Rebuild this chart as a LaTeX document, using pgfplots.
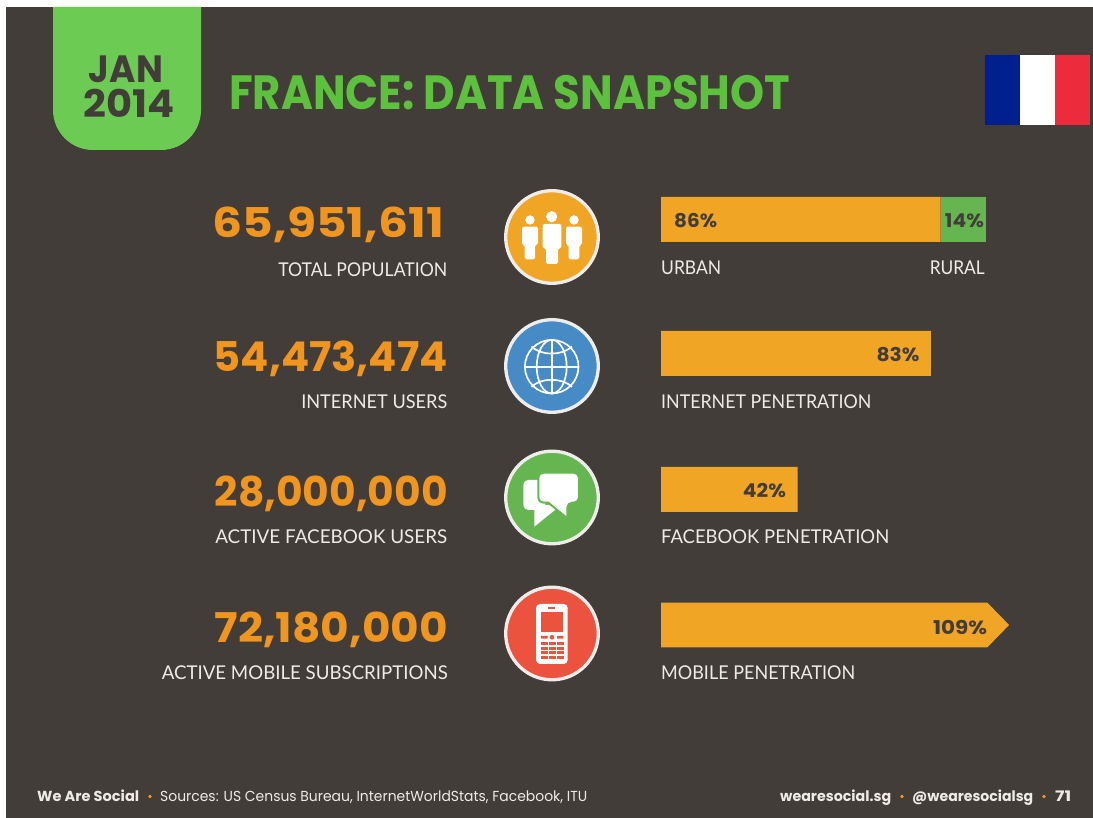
\documentclass[border=0pt]{standalone}
\usepackage{fontspec}
\usepackage{graphicx}
\usepackage{pgfplots}
\pgfplotsset{compat=1.18}
\setmainfont{Poppins}
\newfontfamily\lab{Lato}
% squeeze or stretch a text sideways to a width in slide pixels
\newcommand{\fitw}[2]{\resizebox{#1pt}{\height}{#2}}
\definecolor{bg}{HTML}{433D39}
\definecolor{tabgreen}{HTML}{6CCB53}
\definecolor{headgreen}{HTML}{5CC13C}
\definecolor{numorange}{HTML}{F0951E}
\definecolor{barorange}{HTML}{F0A525}
\definecolor{bargreen}{HTML}{65B650}
\definecolor{iblue}{HTML}{468AC6}
\definecolor{ired}{HTML}{EC533E}
\definecolor{ring}{HTML}{EEEDEB}
\definecolor{lighttext}{HTML}{EDEBE8}
\definecolor{flagblue}{HTML}{00208F}
\definecolor{flagred}{HTML}{EE2A3D}
\tikzset{
  px/.style={x=1pt,y=-1pt,yshift=818pt},
  big/.style={font=\fontsize{41}{41}\selectfont\bfseries,text=numorange,anchor=base east,inner sep=0pt},
  lbl/.style={font=\lab\fontsize{19}{19}\selectfont,text=lighttext,inner sep=0pt},
  val/.style={font=\fontsize{19}{19}\selectfont\bfseries,text=bg,inner sep=0pt,anchor=base east},
  foot/.style={font=\fontsize{14.5}{14.5}\selectfont,text=lighttext,inner sep=0pt,anchor=base west},
  footb/.style={foot,font=\fontsize{14.5}{14.5}\selectfont\bfseries},
}
\begin{document}
\begin{tikzpicture}
% slide background, tab, flag
\begin{scope}[px]
\fill[white] (0,0) rectangle (1093,818);
\fill[bg] (6,7) rectangle (1093,818);
\fill[tabgreen] (53,7) -- (201,7) [rounded corners=40pt] -- (201,150) -- (53,150) [sharp corners] -- cycle;
\fill[flagblue] (985,55) rectangle (1020,125);
\fill[white] (1020,55) rectangle (1055,125);
\fill[flagred] (1055,55) rectangle (1090,125);
\end{scope}

% bars: x in percent, y in slide pixels so the rows sit where they do in the slide
\begin{axis}[
  scale only axis, width=1093pt, height=818pt,
  hide axis, clip=false,
  xmin=-203.385, xmax=132.923,
  ymin=0, ymax=818, y dir=reverse,
  xbar stacked, bar width=45pt, reverse stacked plots=false,
]
\addplot[fill=barorange, draw=none] coordinates {(86,219.5)(83,353.5)(42,489.5)};
\addplot[fill=bargreen, draw=none] coordinates {(14,219.5)(0,353.5)(0,489.5)};
\addplot[sharp plot, stack plots=false, fill=barorange, draw=none]
  coordinates {(0,602.7)(100.4,602.7)(107.1,625)(100.4,647.3)(0,647.3)} --cycle;
\node[val,anchor=base west] at (axis cs:4,228) {\fitw{43}{86\%}};
\node[val] at (axis cs:99.4,228) {\fitw{39}{14\%}};
\node[val] at (axis cs:79.6,362) {\fitw{43}{83\%}};
\node[val] at (axis cs:38.5,498) {\fitw{43}{42\%}};
\node[val] at (axis cs:100.4,634) {\fitw{54}{109\%}};
\end{axis}

\begin{scope}[px]
% heading
\node[font=\fontsize{48}{48}\selectfont\bfseries,text=headgreen,anchor=base west,inner sep=0pt] at (229,110) {\fitw{561}{FRANCE: DATA SNAPSHOT}};
\node[font=\fontsize{38}{38}\selectfont\bfseries,text=bg,anchor=base,inner sep=0pt] at (126,83) {\fitw{74}{JAN}};
\node[font=\fontsize{38}{38}\selectfont\bfseries,text=bg,anchor=base,inner sep=0pt] at (129,118) {\fitw{91}{2014}};

% headline numbers and captions
\node[big] at (444,238) {\fitw{231}{65,951,611}};
\node[big] at (448,371.5) {\fitw{234}{54,473,474}};
\node[big] at (448,506.5) {\fitw{233}{28,000,000}};
\node[big] at (448,643) {\fitw{233}{72,180,000}};
\node[lbl,anchor=base east] at (447.5,277) {\fitw{169}{TOTAL POPULATION}};
\node[lbl,anchor=base east] at (447.5,409) {\fitw{146}{INTERNET USERS}};
\node[lbl,anchor=base east] at (447.5,544) {\fitw{232}{ACTIVE FACEBOOK USERS}};
\node[lbl,anchor=base east] at (448,680) {\fitw{286}{ACTIVE MOBILE SUBSCRIPTIONS}};
\node[lbl,anchor=base west] at (661,275) {\fitw{60}{URBAN}};
\node[lbl,anchor=base east] at (985,275) {\fitw{55}{RURAL}};
\node[lbl,anchor=base west] at (661,409) {\fitw{210}{INTERNET PENETRATION}};
\node[lbl,anchor=base west] at (661,544) {\fitw{228}{FACEBOOK PENETRATION}};
\node[lbl,anchor=base west] at (661,680) {\fitw{194}{MOBILE PENETRATION}};

% icon discs
\foreach \cy/\col in {237/barorange,366/iblue,497.5/bargreen,633.5/ired}
  \filldraw[fill=\col,draw=ring,line width=3.3pt] (552,\cy) circle[radius=46.3pt];

% people
\fill[white] (551.7,216.7) circle[radius=5.6pt] (530,220) circle[radius=4.7pt] (574,220) circle[radius=4.7pt];
\fill[white,rounded corners=1.5pt] (542.7,224) -- (561.3,224) -- (561.3,248.3) -- (558,248.3) -- (558,264) -- (546,264) -- (546,248.3) -- (542.7,248.3) -- cycle;
\fill[white,rounded corners=1.5pt] (522,226.7) -- (538,226.7) -- (538,245) -- (535,245) -- (535,259.3) -- (524.7,259.3) -- (524.7,245) -- (522,245) -- cycle;
\fill[white,rounded corners=1.5pt] (566,226.7) -- (582,226.7) -- (582,245) -- (579.3,245) -- (579.3,259.3) -- (568.7,259.3) -- (568.7,245) -- (566,245) -- cycle;

% globe
\begin{scope}[white,line width=1.7pt]
\draw (551.7,366.7) circle[radius=26.8pt];
\draw (551.7,366.7) ellipse[x radius=15pt,y radius=26.8pt];
\draw (551.7,339.9) -- (551.7,393.5);
\draw (524.9,366.7) -- (578.5,366.7);
\draw (531.5,346.5) .. controls (541,356) and (562,356) .. (572,346.5);
\draw (531.5,386.9) .. controls (541,377.4) and (562,377.4) .. (572,386.9);
\end{scope}

% speech bubbles
\fill[white,rounded corners=5pt] (523.3,480) -- (545,480) -- (545,510) -- (523.3,510) -- cycle;
\fill[white] (534.3,505) -- (534.3,526.7) -- (555,510) -- (555,505) -- cycle;
\filldraw[fill=white,draw=bargreen,line width=2pt,rounded corners=5pt] (538.3,472.7) -- (579,472.7) -- (579,502.7) -- (567.3,502.7) [sharp corners] -- (567.3,518.3) -- (548.3,502.7) [rounded corners=5pt] -- (538.3,502.7) -- cycle;

% phone
\fill[white,rounded corners=4pt] (536,604) rectangle (567.7,664);
\fill[ired] (541,611.7) rectangle (563.3,632.3);
\fill[ired] (548.3,607.3) rectangle (555,608.7);
\fill[ired] (541,636) rectangle (547.7,638.7) (557,636) rectangle (563.3,638.7);
\fill[ired] (552,637.3) circle[radius=2.3pt];
\foreach \ky in {642,646.7,651.3,656}
  \foreach \kx in {541,549,557}
    \fill[ired] (\kx,\ky) rectangle ++(6.5,3);

% footer
\node[footb] at (37,802) {\fitw{102}{We Are Social}};
\fill[numorange] (150,796.5) circle[radius=1.8pt];
\node[foot] at (160,802) {\fitw{427}{Sources: US Census Bureau, InternetWorldStats, Facebook, ITU}};
\node[footb] at (780,802) {\fitw{111}{wearesocial.sg}};
\fill[numorange] (902,796.5) circle[radius=1.8pt];
\node[footb] at (912,802) {\fitw{121}{@wearesocialsg}};
\fill[numorange] (1044,796.5) circle[radius=1.8pt];
\node[footb] at (1055,802) {\fitw{16}{71}};
\end{scope}
\end{tikzpicture}
\end{document}
